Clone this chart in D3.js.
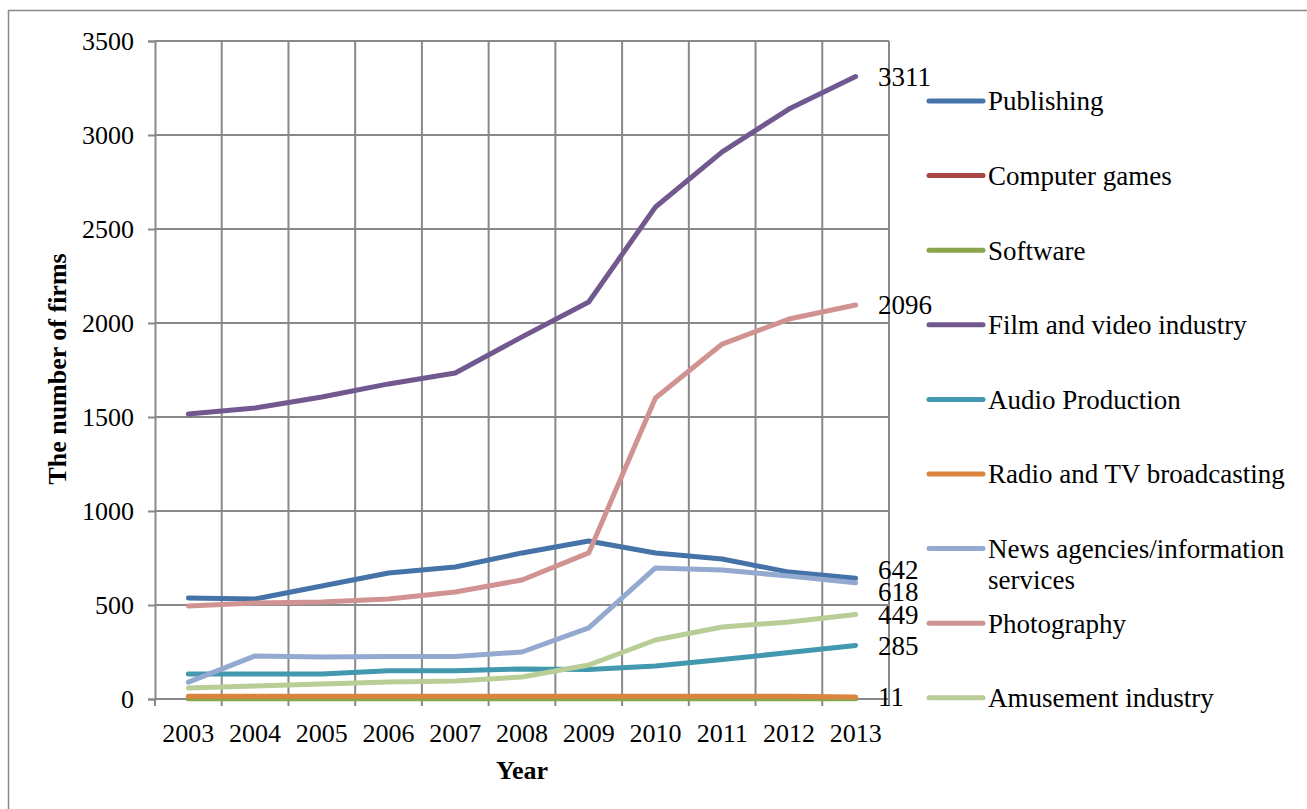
<!DOCTYPE html>
<html>
<head>
<meta charset="utf-8">
<script src="https://cdn.jsdelivr.net/npm/d3@7"></script>
<style>
  html, body { margin: 0; padding: 0; background: #fff; }
  text { font-family: "Liberation Serif", "Times New Roman", serif; fill: #000; }
</style>
</head>
<body>
<svg id="chart" width="1307" height="809"></svg>
<script>
const years = ["2003","2004","2005","2006","2007","2008","2009","2010","2011","2012","2013"];
const yTicks = [0, 500, 1000, 1500, 2000, 2500, 3000, 3500];

const publishing    = [537, 532, 601, 670, 702, 777, 840, 777, 745, 675, 642];
const computerGames = [3, 3, 3, 3, 3, 3, 3, 3, 3, 3, 3];
const software      = [1, 1, 1, 1, 1, 1, 1, 1, 1, 1, 1];
const film          = [1516, 1548, 1606, 1676, 1734, 1926, 2112, 2617, 2910, 3138, 3311];
const audio         = [133, 133, 133, 150, 150, 160, 157, 175, 210, 247, 285];
const radio         = [14, 14, 14, 14, 14, 15, 14, 15, 15, 15, 11];
const news          = [90, 229, 223, 226, 226, 250, 378, 697, 686, 654, 618];
const photography   = [495, 511, 516, 532, 569, 633, 777, 1601, 1888, 2021, 2096];
const amusement     = [58, 69, 80, 90, 96, 117, 181, 314, 383, 410, 449];

const seriesNames  = ["Publishing", "Computer games", "Software", "Film and video industry", "Audio Production",
                      "Radio and TV broadcasting", "News agencies/information services", "Photography", "Amusement industry"];
const seriesValues = [publishing, computerGames, software, film, audio, radio, news, photography, amusement];
const seriesColors = ["#4572A7", "#AA4643", "#89A54E", "#71588F", "#4198AF", "#DB843D", "#93A9CF", "#D19392", "#B9CD96"];
const endLabels    = [true, false, false, true, true, true, true, true, true];

const svg = d3.select("#chart");
const m = { left: 155, right: 889, top: 41, bottom: 699 };
const tickFont = "26px", legFont = "27px";

// outer border
svg.append("rect").attr("x", 8.5).attr("y", 10.5).attr("width", 1320).attr("height", 830)
  .attr("fill", "none").attr("stroke", "#888").attr("stroke-width", 1.5);

const x = d3.scaleBand().domain(years).range([m.left, m.right]);
const y = d3.scaleLinear().domain([0, 3500]).range([m.bottom, m.top]);
const xc = d => x(d) + x.bandwidth() / 2;

const gridColor = "#898989";

// y axis
const yAxis = d3.axisLeft(y).tickValues(yTicks).tickSize(7).tickPadding(14).tickFormat(d3.format("d"));
const gy = svg.append("g").attr("transform", `translate(${m.left},0)`).call(yAxis);
gy.attr("font-family", null);
gy.select(".domain").attr("stroke", gridColor).attr("stroke-width", 2);
gy.selectAll(".tick line").attr("stroke", gridColor).attr("stroke-width", 2);
gy.selectAll(".tick text").style("font-size", tickFont).style("font-family", "Liberation Serif");

// horizontal grid
svg.append("g").selectAll("line").data(yTicks.slice(1)).join("line")
  .attr("x1", m.left).attr("x2", m.right).attr("y1", d => y(d)).attr("y2", d => y(d))
  .attr("stroke", gridColor).attr("stroke-width", 2);

// vertical grid
const vlines = years.map(d => x(d)).concat([m.right]);
svg.append("g").selectAll("line").data(vlines.slice(1)).join("line")
  .attr("x1", d => d).attr("x2", d => d).attr("y1", m.top).attr("y2", m.bottom)
  .attr("stroke", gridColor).attr("stroke-width", 2);

// x axis
svg.append("line").attr("x1", m.left).attr("x2", m.right).attr("y1", m.bottom).attr("y2", m.bottom)
  .attr("stroke", gridColor).attr("stroke-width", 2);
svg.append("g").selectAll("line").data(vlines).join("line")
  .attr("x1", d => d).attr("x2", d => d).attr("y1", m.bottom).attr("y2", m.bottom + 7)
  .attr("stroke", gridColor).attr("stroke-width", 2);
svg.append("g").selectAll("text").data(years).join("text")
  .attr("x", d => xc(d)).attr("y", 742).attr("text-anchor", "middle")
  .style("font-size", tickFont).text(d => d);

// axis titles
svg.append("text").attr("x", 522).attr("y", 779).attr("text-anchor", "middle")
  .style("font-size", "26px").style("font-weight", "bold").text("Year");
svg.append("text").attr("transform", "translate(66,369) rotate(-90)").attr("text-anchor", "middle")
  .style("font-size", "26px").style("font-weight", "bold").text("The number of firms");

// lines
const line = d3.line().x((d, i) => xc(years[i])).y(d => y(d));
svg.append("g").selectAll("path").data(seriesValues).join("path")
  .attr("d", d => line(d)).attr("fill", "none")
  .attr("stroke", (d, i) => seriesColors[i]).attr("stroke-width", 5)
  .attr("stroke-linecap", "round").attr("stroke-linejoin", "round");

// end labels with simple dodge
let labs = seriesValues.map((v, i) => ({ v: v[v.length - 1], show: endLabels[i], y: y(v[v.length - 1]) }))
  .filter(d => d.show).sort((a, b) => a.y - b.y);
const gap = 22;
for (let k = 1; k < labs.length; k++) {
  if (labs[k].y - labs[k - 1].y < gap) {
    const mid = (labs[k].y + labs[k - 1].y) / 2;
    labs[k - 1].y = Math.min(labs[k - 1].y, mid - gap / 2);
    labs[k].y = labs[k - 1].y + gap;
  }
}
svg.append("g").selectAll("text").data(labs).join("text")
  .attr("x", 878).attr("y", d => d.y).attr("dy", "0.35em")
  .style("font-size", legFont).text(d => d.v);

// legend
const legY0 = 101, legStep = 74.6;
const lg = svg.append("g");
seriesNames.forEach((name, i) => {
  const ly = legY0 + i * legStep;
  lg.append("line").attr("x1", 929).attr("x2", 983).attr("y1", ly).attr("y2", ly)
    .attr("stroke", seriesColors[i]).attr("stroke-width", 5).attr("stroke-linecap", "round");
  if (name.startsWith("News")) {
    const t = lg.append("text").attr("x", 988).attr("y", ly).attr("dy", "0.35em").style("font-size", legFont);
    t.append("tspan").attr("x", 988).text("News agencies/information");
    t.append("tspan").attr("x", 988).attr("dy", "1.15em").text("services");
  } else {
    lg.append("text").attr("x", 988).attr("y", ly).attr("dy", "0.35em").style("font-size", legFont).text(name);
  }
});
</script>
</body>
</html>
